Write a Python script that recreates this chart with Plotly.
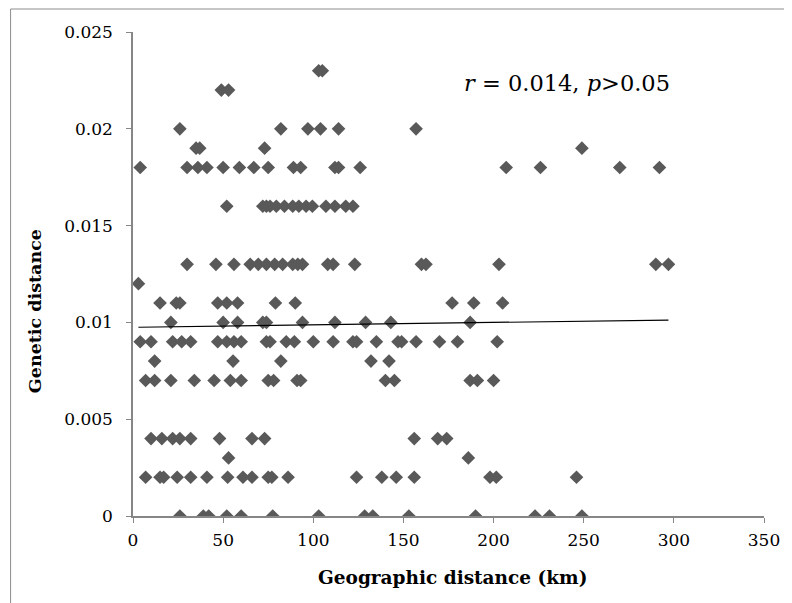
import plotly.graph_objects as go

# Geographic distance (km) and genetic distance, one line per distance level
geo_km = [
    103, 105,
    49, 53,
    26, 82, 97, 104, 114, 157,
    35, 37, 73, 249,
    4, 30, 36, 41, 50, 59, 67, 75, 89, 93, 112, 114, 126, 207, 226, 270, 292,
    52, 72, 74, 76, 79.5, 84, 88.6, 92, 96, 99.5, 107, 112, 118, 122,
    30, 46, 56, 65, 69.5, 74, 78.6, 83, 88.6, 91.4, 94, 108, 111, 123, 160, 162.5, 203, 290, 297,
    3,
    15, 24, 26, 47, 52, 58, 79, 90, 177, 189, 205,
    21, 50, 58, 72, 74, 94, 112, 129, 143, 187,
    4, 10, 22, 27, 32, 47, 52, 56, 60, 74, 76, 85, 89.5, 100, 111, 122, 124, 135, 147, 149, 157, 170, 180, 202,
    12, 55.5, 82, 132, 142,
    7, 12, 21, 34, 45, 54, 60, 75, 78, 91, 93, 140, 145, 187, 191, 200,
    10, 16, 22, 26, 32, 48, 66, 73, 156, 169, 174,
    53, 186,
    7, 15, 17, 24.5, 32, 41, 52.5, 61, 66, 75, 77, 86, 124, 138, 146, 156, 198, 201.5, 246,
    26, 39, 42, 52, 60, 77.5, 103, 128.5, 133, 153, 190, 223, 231, 249,
]
gen_dist = (
    [0.023] * 2 + [0.022] * 2 + [0.020] * 6 + [0.019] * 4 + [0.018] * 17
    + [0.016] * 14 + [0.013] * 19 + [0.012] * 1 + [0.011] * 11 + [0.010] * 10
    + [0.009] * 24 + [0.008] * 5 + [0.007] * 16 + [0.004] * 11 + [0.003] * 2
    + [0.002] * 19 + [0.0] * 14
)

trend_x = [3, 297]
trend_y = [0.00975, 0.01012]

x_ticks = [0, 50, 100, 150, 200, 250, 300, 350]
y_ticks = [0, 0.005, 0.01, 0.015, 0.02, 0.025]
y_tick_text = ["0", "0.005", "0.01", "0.015", "0.02", "0.025"]

AX = "#868686"
FONT = "DejaVu Serif"

fig = go.Figure()
fig.add_trace(go.Scatter(
    x=geo_km, y=gen_dist, mode="markers",
    marker=dict(symbol="diamond", size=10.5, color="#595959", line=dict(width=0)),
    showlegend=False, hoverinfo="x+y",
))
fig.add_trace(go.Scatter(
    x=trend_x, y=trend_y, mode="lines",
    line=dict(color="black", width=1.2), showlegend=False, hoverinfo="skip",
))

# page has an 8px body margin, so the figure is 8px smaller than the window
fig.update_layout(
    width=784, height=595,
    margin=dict(l=125, r=20, t=24, b=87),
    paper_bgcolor="white", plot_bgcolor="white",
    font=dict(family=FONT, size=17, color="black"),
    xaxis=dict(
        range=[0, 350], tickvals=x_ticks, showgrid=False, zeroline=False,
        showline=True, linecolor=AX, linewidth=1.5,
        ticks="outside", ticklen=5, tickcolor=AX, tickwidth=1,
        tickfont=dict(family=FONT, size=17), ticklabelstandoff=3,
    ),
    yaxis=dict(
        range=[0, 0.025], tickvals=y_ticks, ticktext=y_tick_text, showgrid=False, zeroline=False,
        showline=True, linecolor=AX, linewidth=1.5,
        ticks="outside", ticklen=5, tickcolor=AX, tickwidth=1,
        tickfont=dict(family=FONT, size=17), ticklabelstandoff=10,
    ),
    annotations=[
        dict(text="<i>r</i> = 0.014, <i>p</i>>0.05", xref="paper", yref="paper",
             x=0.522, y=0.8946, xanchor="left", yanchor="middle", showarrow=False,
             font=dict(family=FONT, size=22.5, color="black")),
        dict(text="<b>Geographic distance (km)</b>", xref="paper", yref="paper",
             x=0.506, y=-0.128, xanchor="center", yanchor="middle", showarrow=False,
             font=dict(family=FONT, size=18.5, color="black")),
        dict(text="<b>Genetic distance</b>", xref="paper", yref="paper", textangle=-90,
             x=-0.155, y=0.4236, xanchor="center", yanchor="middle", showarrow=False,
             font=dict(family=FONT, size=17.5, color="black")),
    ],
    shapes=[
        dict(type="line", xref="paper", yref="paper", x0=-0.194, x1=-0.194, y0=-0.2, y1=1.0475,
             line=dict(color="#8c8c8c", width=1)),
        dict(type="line", xref="paper", yref="paper", x0=-0.194, x1=1.04, y0=1.0475, y1=1.0475,
             line=dict(color="#8c8c8c", width=1)),
    ],
)

fig.write_html("out.html")
